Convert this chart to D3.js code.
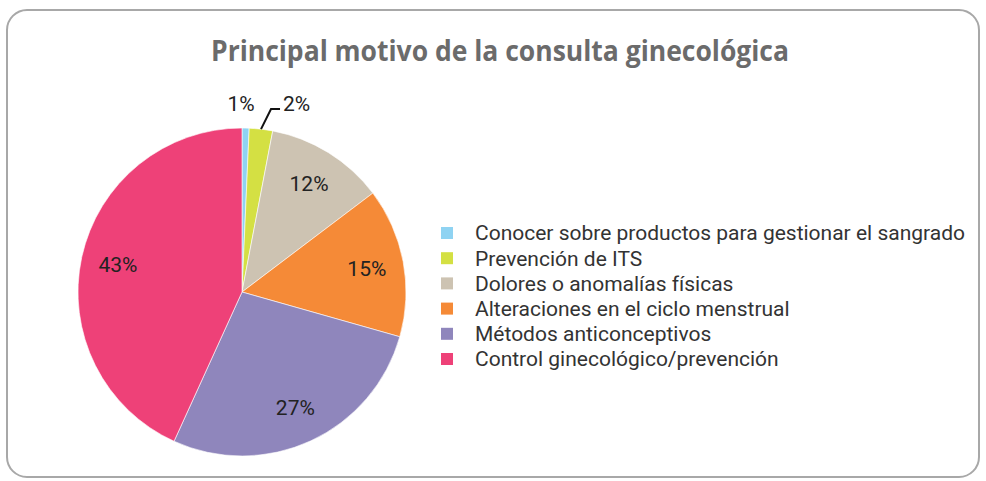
<!DOCTYPE html>
<html>
<head>
<meta charset="utf-8">
<title>Principal motivo de la consulta ginecológica</title>
<script src="https://cdn.jsdelivr.net/npm/d3@7"></script>
<style>
  body { margin: 0; background: #fff; }
</style>
</head>
<body>
<div id="chart"></div>
<script>
  // data (share of answers, %)
  var categories = [
    "Conocer sobre productos para gestionar el sangrado",
    "Prevención de ITS",
    "Dolores o anomalías físicas",
    "Alteraciones en el ciclo menstrual",
    "Métodos anticonceptivos",
    "Control ginecológico/prevención"
  ];
  var values = [0.7, 2.3, 11.7, 14.7, 27.4, 43.2];
  var colors = ["#8fd3f2", "#d4e043", "#cdc3b2", "#f58a37", "#8f86bc", "#ee4178"];

  var width = 986, height = 481;
  var cx = 242, cy = 292, radius = 164;

  var svg = d3.select("#chart").append("svg")
    .attr("width", width)
    .attr("height", height);

  // card
  svg.append("rect")
    .attr("x", 7).attr("y", 10)
    .attr("width", 972).attr("height", 467)
    .attr("rx", 20).attr("ry", 20)
    .style("fill", "#fff")
    .style("stroke", "#a8a8a8")
    .style("stroke-width", 2);

  svg.append("text")
    .attr("x", 500).attr("y", 61)
    .attr("text-anchor", "middle")
    .attr("textLength", 578)
    .attr("lengthAdjust", "spacingAndGlyphs")
    .style("font-family", "'Open Sans', sans-serif")
    .style("font-weight", 700)
    .style("font-size", "28px")
    .style("fill", "#6b6b6b")
    .text("Principal motivo de la consulta ginecológica");

  var data = categories.map(function(c, i) { return { name: c, value: values[i], color: colors[i] }; });

  var pie = d3.pie().sort(null).value(function(d) { return d.value; });
  var arcs = pie(data);

  var arc = d3.arc().innerRadius(0).outerRadius(radius);
  var labelArc = d3.arc().innerRadius(127).outerRadius(127);
  var edgeArc = d3.arc().innerRadius(radius).outerRadius(radius);
  var outArc = d3.arc().innerRadius(radius + 24).outerRadius(radius + 24);

  var g = svg.append("g").attr("transform", "translate(" + cx + "," + cy + ")");

  g.selectAll("path.slice").data(arcs).enter().append("path")
    .attr("class", "slice")
    .attr("d", arc)
    .style("fill", function(d) { return d.data.color; })
    .style("stroke", "#fff")
    .style("stroke-width", 0.6);

  function pct(d) { return Math.round(d.data.value) + "%"; }

  var labelFont = "Roboto, sans-serif";
  var fs = "21px";

  // inner labels for the big slices
  g.selectAll("text.inlabel").data(arcs.slice(2)).enter().append("text")
    .attr("class", "inlabel")
    .attr("transform", function(d) { return "translate(" + labelArc.centroid(d) + ")"; })
    .attr("text-anchor", "middle")
    .attr("dy", "0.35em")
    .style("font-family", labelFont)
    .style("font-size", fs)
    .style("fill", "#222")
    .text(pct);

  // 1% label just outside
  var p1 = outArc.centroid(arcs[0]);
  g.append("text")
    .attr("x", p1[0] - 5).attr("y", p1[1])
    .attr("text-anchor", "middle")
    .attr("dy", "0.35em")
    .style("font-family", labelFont)
    .style("font-size", fs)
    .style("fill", "#222")
    .text(pct(arcs[0]));

  // 2% label with a leader line
  var s = edgeArc.centroid(arcs[1]);
  var bend = [s[0] + 10, s[1] - 20];
  var end = [bend[0] + 9, bend[1]];
  g.append("polyline")
    .attr("points", [s, bend, end].map(function(p) { return p.join(","); }).join(" "))
    .style("fill", "none")
    .style("stroke", "#111")
    .style("stroke-width", 2);
  g.append("text")
    .attr("x", end[0] + 3).attr("y", end[1] - 5)
    .attr("dy", "0.35em")
    .style("font-family", labelFont)
    .style("font-size", fs)
    .style("fill", "#222")
    .text(pct(arcs[1]));

  // legend
  var legend = svg.append("g").attr("transform", "translate(441,233)");
  var row = legend.selectAll("g.item").data(data).enter().append("g")
    .attr("class", "item")
    .attr("transform", function(d, i) { return "translate(0," + (i * 25.2) + ")"; });
  row.append("rect")
    .attr("x", 0).attr("y", -6)
    .attr("width", 12).attr("height", 12)
    .style("fill", function(d) { return d.color; });
  row.append("text")
    .attr("x", 34).attr("y", 0)
    .attr("dy", "0.35em")
    .style("font-family", labelFont)
    .style("font-size", fs)
    .style("fill", "#333")
    .text(function(d) { return d.name; });
</script>
</body>
</html>
